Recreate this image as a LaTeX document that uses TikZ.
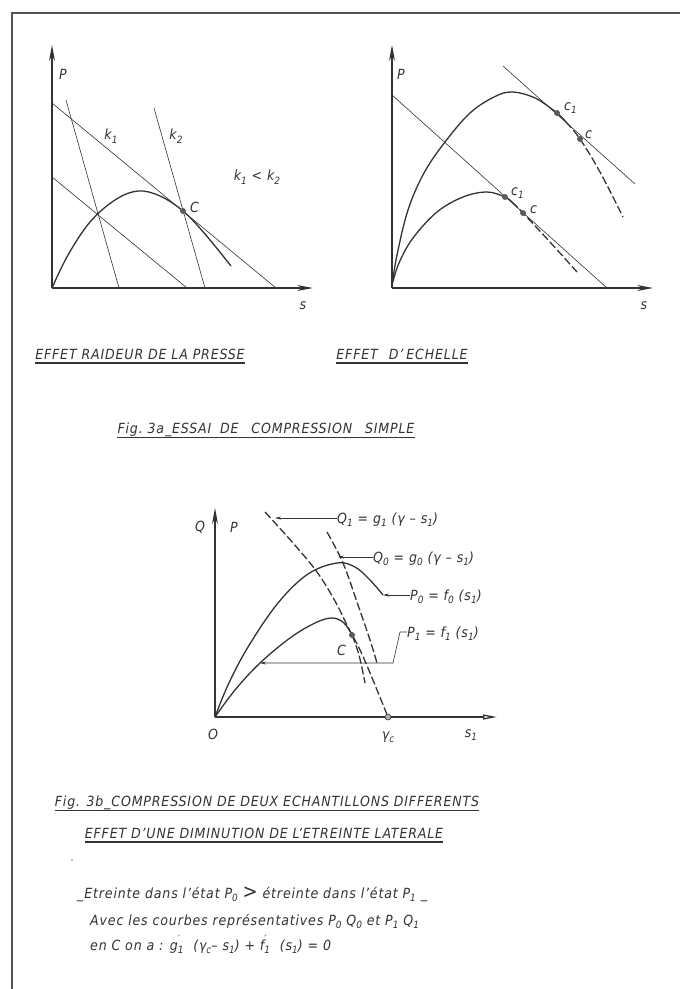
\documentclass[tikz,border=0pt]{standalone}
\usepackage{fontspec}
\setmainfont{DejaVu Sans Condensed Oblique}[LetterSpace=6]
\usetikzlibrary{arrows.meta}
\definecolor{ink}{HTML}{333333}
\newcommand\lsub[1]{\raisebox{-0.45ex}{\fontsize{10}{10}\selectfont #1}}
\newcommand\pr{\rlap{\raisebox{1.0ex}{\fontsize{10}{10}\selectfont ′}}}
\begin{document}
\begin{tikzpicture}[x=1pt,y=-1pt,
  ln/.style={line width=0.6pt, draw=ink},
  crv/.style={line width=1.3pt, draw=ink},
  ax/.style={line width=1.3pt, draw=ink, -{Stealth[length=16pt,width=6pt]}},
  axo/.style={line width=1.3pt, draw=ink, -{Triangle[open,length=14pt,width=5pt]}},
  dsh/.style={line width=1.3pt, draw=ink, dash pattern=on 8pt off 3pt},
  pt/.style={circle, fill=ink!80, inner sep=0pt, minimum size=6pt},
  lbl/.style={text=ink, font=\fontsize{14}{15}\selectfont, inner sep=0pt},
  ttl/.style={text=ink, font=\fontsize{14}{15}\selectfont, inner sep=0pt},
  txt/.style={text=ink, font=\fontsize{14}{15}\selectfont, inner sep=0pt, anchor=base west},
  ldr/.style={line width=0.6pt, draw=ink, -{Stealth[length=6pt,width=3pt]}},
  ul/.style={line width=1.3pt, draw=ink}
]
\useasboundingbox[fill=white] (0,0) rectangle (680,989);
% frame
\draw[line width=2pt, draw=ink!85] (680,13) -- (12,13) -- (12,989);

% ---------- graph 1 ----------
\coordinate (o1) at (52,288);
\draw[ln] (52,103) -- (276,288);
\draw[ln] (52,177) -- (187,288);
\draw[ln] (66,100) -- (119,288);
\draw[ln] (154,108) -- (205,288);
\draw[crv] plot[smooth, tension=0.6] coordinates {(52,288) (68,255) (90,222) (115,200) (138,191) (160,196) (183,211) (205,234) (231,266)};
\node[pt] (C1) at (183,211) {};
\draw[ax] (o1) -- (52,45);
\draw[ax] (o1) -- (313,288);
\node[lbl] (P1) at (63,74) {P};
\node[lbl] (s1) at (303,306) {s};
\node[lbl] (k1) at (111,136) {k\lsub{1}};
\node[lbl] (k2) at (176,136) {k\lsub{2}};
\node[lbl] (kk) at (257,177) {k\lsub{1} < k\lsub{2}};
\node[lbl, anchor=west] (Cl) at (190,207) {C};

% ---------- graph 2 ----------
\coordinate (o2) at (392,288);
\draw[ln] (392,95) -- (607,288);
\draw[ln] (503,66) -- (635,184);
\draw[crv] plot[smooth, tension=0.6] coordinates {(392,285) (397,255) (408,210) (424,173) (445,142) (470,113) (494,97) (512,92) (535,98) (557,113) (566,122)};
\draw[dsh] plot[smooth, tension=0.6] coordinates {(566,122) (580,139) (600,172) (623,217)};
\draw[crv] plot[smooth, tension=0.6] coordinates {(392,285) (399,263) (413,238) (437,212) (463,197) (487,192) (505,197) (512,202)};
\draw[dsh] plot[smooth, tension=0.6] coordinates {(512,202) (523,213) (550,242) (577,272)};
\node[pt] (c1u) at (557,113) {};
\node[pt] (cu) at (580,139) {};
\node[pt] (c1l) at (505,197) {};
\node[pt] (cl) at (523,213) {};
\draw[ax] (o2) -- (392,45);
\draw[ax] (o2) -- (653,288);
\node[lbl] (P2) at (401,74) {P};
\node[lbl] (s2) at (644,306) {s};
\node[lbl, anchor=west] (lc1u) at (564,108) {c\lsub{1}};
\node[lbl, anchor=west] (lcu) at (585,135) {c};
\node[lbl, anchor=west] (lc1l) at (511,193) {c\lsub{1}};
\node[lbl, anchor=west] (lcl) at (530,210) {c};

% ---------- titles ----------
\node[ttl] (t1) at (140,354) {EFFET RAIDEUR DE LA PRESSE};
\draw[ul] ([yshift=-4pt]t1.base west) -- ([yshift=-4pt]t1.base east);
\node[ttl] (t2) at (402,354) {EFFET\hspace{11pt}D'\hspace{3pt}ECHELLE};
\draw[ul] ([yshift=-4pt]t2.base west) -- ([yshift=-4pt]t2.base east);
\node[ttl] (t3) at (266,430) {Fig.\ 3a\_ESSAI\hspace{4pt} DE\hspace{8pt} COMPRESSION\hspace{8pt} SIMPLE};
\draw[ul] ([yshift=-4pt]t3.base west) -- ([yshift=-4pt]t3.base east);

% ---------- graph 3 ----------
\coordinate (o3) at (215,717);
\draw[crv] plot[smooth, tension=0.6] coordinates {(215,717) (228,685) (248,647) (278,603) (308,574) (337,563) (355,567) (370,580) (383,595)};
\draw[crv] plot[smooth, tension=0.6] coordinates {(215,717) (235,690) (260,663) (290,638) (315,623) (332,618) (344,623) (352,635)};
\draw[dsh] plot[smooth, tension=0.6] coordinates {(352,635) (359,655) (365,683)};
\draw[dsh] plot[smooth, tension=0.6] coordinates {(265,512) (293,543) (317,572) (335,601) (348,627) (361,652) (375,685) (388,717)};
\draw[dsh] plot[smooth, tension=0.6] coordinates {(327,532) (343,563) (358,605) (370,640) (377,663)};
\node[pt] (C3) at (352,635) {};
\draw[ax] (o3) -- (215,508);
\draw[axo] (o3) -- (497,717);
\node[circle, draw=ink, fill=ink!40, line width=0.6pt, inner sep=0pt, minimum size=6pt] (gc) at (388,717) {};
\node[lbl] (Q3) at (200,527) {Q};
\node[lbl] (P3) at (234,527) {P};
\node[lbl] (O3) at (213,734) {O};
\node[lbl] (gcl) at (388,737) {γ\lsub{c}};
\node[lbl] (s3) at (471,735) {s\lsub{1}};
\node[lbl, anchor=west] (C3l) at (337,650) {C};
% labels with leaders
\node[txt] (q1) at (337,523) {Q\lsub{1} = g\lsub{1} (γ – s\lsub{1})};
\draw[ldr] (q1.west |- 0,518) -- (275,518);
\node[txt] (q0) at (373,562) {Q\lsub{0} = g\lsub{0} (γ – s\lsub{1})};
\draw[ldr] (q0.west |- 0,557) -- (338,557);
\node[txt] (p0) at (410,600) {P\lsub{0} = f\lsub{0} (s\lsub{1})};
\draw[ldr] (p0.west |- 0,595) -- (383,595);
\node[txt] (p1) at (407,637) {P\lsub{1} = f\lsub{1} (s\lsub{1})};
\draw[ldr] (p1.west |- 0,632) -- (400,632) -- (393,663) -- (260,663);

% ---------- captions ----------
\node[ttl] (t4) at (267,803) {Fig. 3b\_COMPRESSION DE DEUX ECHANTILLONS DIFFERENTS};
\draw[ul] ([yshift=-4pt]t4.base west) -- ([yshift=-4pt]t4.base east);
\node[ttl] (t5) at (264,833) {EFFET D'UNE DIMINUTION DE L'ETREINTE LATERALE};
\draw[ul] ([yshift=-4pt]t5.base west) -- ([yshift=-4pt]t5.base east);
\fill[ink!60] (72,860) circle (0.8);

\node[txt] (l1) at (77,898) {\_Etreinte dans l'état P\lsub{0} {\fontsize{20}{20}\selectfont >} étreinte dans l'état P\lsub{1} \_};
\node[txt] (l2) at (90,925) {Avec les courbes représentatives P\lsub{0} Q\lsub{0} et P\lsub{1} Q\lsub{1}};
\node[txt] (l3) at (90,950) {en C on a : g\pr\lsub{1} \ (γ\lsub{c}– s\lsub{1}) + f\pr\lsub{1} \ (s\lsub{1}) = 0};
\end{tikzpicture}
\end{document}
